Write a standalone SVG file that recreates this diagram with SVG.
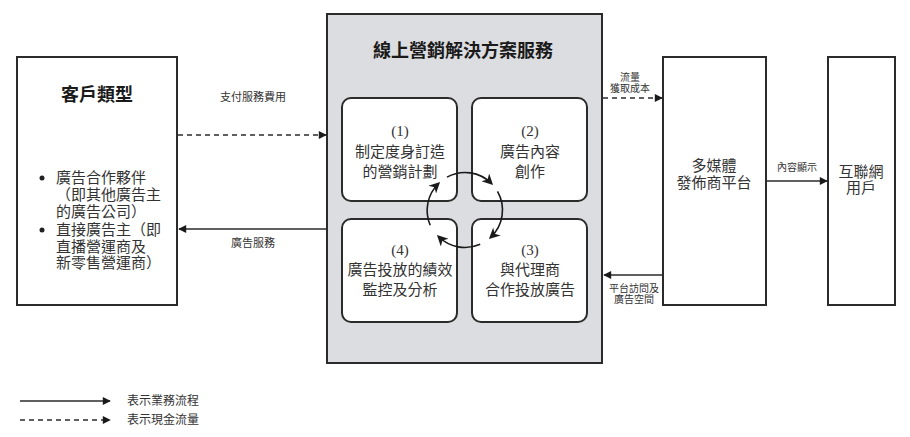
<svg xmlns="http://www.w3.org/2000/svg" width="910" height="437" viewBox="0 0 910 437">
<defs>
<style>
.box{fill:#fff;stroke:#2b2b2b;stroke-width:2}
.mid{fill:#dcdde0;stroke:#2b2b2b;stroke-width:2}
.sub{fill:#fff;stroke:#2b2b2b;stroke-width:2}
.t{font-family:"Liberation Serif","Noto Sans CJK TC",serif;fill:#333;text-anchor:middle}
.title{font-family:"Noto Sans CJK TC","Liberation Sans",sans-serif;font-weight:bold;fill:#1a1a1a;text-anchor:middle}
.b15{font-size:15px}
.lbl{font-size:11px}
.sm{font-size:10px}
.ln{stroke:#2b2b2b;stroke-width:1.3;fill:none}
.dash{stroke-dasharray:5,4}
.cyc{stroke:#1a1a1a;stroke-width:1.6;fill:none}
</style>
<marker id="ah" viewBox="0 0 10 10" refX="9" refY="5" markerWidth="9" markerHeight="8" markerUnits="userSpaceOnUse" orient="auto">
<path d="M0,0 L10,5 L0,10 z" fill="#1a1a1a"/>
</marker>
<marker id="ah2" viewBox="0 0 10 10" refX="8" refY="5" markerWidth="12" markerHeight="11" markerUnits="userSpaceOnUse" orient="auto">
<path d="M0,0 L10,5 L0,10 L3,5 z" fill="#1a1a1a"/>
</marker>
</defs>

<g id="clients">
<rect class="box" x="17" y="57" width="160" height="248"/>
<text class="title" x="97" y="101" font-size="18">客戶類型</text>
<circle cx="42" cy="178" r="2.5" fill="#222"/>
<circle cx="42" cy="230" r="2.5" fill="#222"/>
<g class="t b15" style="text-anchor:start">
<text x="56" y="183">廣告合作夥伴</text>
<text x="56" y="200">（即其他廣告主</text>
<text x="56" y="217">的廣告公司）</text>
<text x="56" y="235">直接廣告主（即</text>
<text x="56" y="252">直播營運商及</text>
<text x="56" y="268">新零售營運商）</text>
</g>
</g>

<g id="solutions">
<rect class="mid" x="327" y="14" width="275" height="349"/>
<text class="title" x="463" y="57" font-size="18">線上營銷解決方案服務</text>
</g>

<g id="step1">
<rect class="sub" x="342" y="98" width="115" height="103" rx="9"/>
<text class="t b15" x="400" y="136">(1)</text>
<text class="t b15" x="400" y="157">制定度身訂造</text>
<text class="t b15" x="400" y="177">的營銷計劃</text>
</g>
<g id="step2">
<rect class="sub" x="472" y="98" width="115" height="103" rx="9"/>
<text class="t b15" x="530" y="136">(2)</text>
<text class="t b15" x="530" y="157">廣告內容</text>
<text class="t b15" x="530" y="177">創作</text>
</g>
<g id="step3">
<rect class="sub" x="472" y="219" width="115" height="103" rx="9"/>
<text class="t b15" x="530" y="255">(3)</text>
<text class="t b15" x="530" y="275">與代理商</text>
<text class="t b15" x="530" y="295">合作投放廣告</text>
</g>
<g id="step4">
<rect class="sub" x="342" y="219" width="115" height="103" rx="9"/>
<text class="t b15" x="400" y="255">(4)</text>
<text class="t b15" x="400" y="275">廣告投放的績效</text>
<text class="t b15" x="400" y="295">監控及分析</text>
</g>

<g id="platform">
<rect class="box" x="663" y="57" width="103" height="248"/>
<text class="t b15" x="714" y="171">多媒體</text>
<text class="t b15" x="714" y="188">發佈商平台</text>
</g>

<g id="users">
<rect class="box" x="828" y="57" width="67" height="248"/>
<text class="t b15" x="861" y="177">互聯網</text>
<text class="t b15" x="861" y="193">用戶</text>
</g>

<g id="connectors">
<line class="ln dash" x1="178" y1="135" x2="326" y2="135" marker-end="url(#ah)"/>
<text class="t lbl" x="253" y="101">支付服務費用</text>
<line class="ln" x1="327" y1="229" x2="179" y2="229" marker-end="url(#ah)"/>
<text class="t lbl" x="253" y="247">廣告服務</text>

<line class="ln dash" x1="603" y1="98" x2="662" y2="98" marker-end="url(#ah)"/>
<text class="t sm" x="630" y="81">流量</text>
<text class="t sm" x="630" y="92">獲取成本</text>
<line class="ln" x1="663" y1="275" x2="604" y2="275" marker-end="url(#ah)"/>
<text class="t sm" x="634" y="292">平台訪問及</text>
<text class="t sm" x="634" y="303">廣告空間</text>

<line class="ln" x1="767" y1="181" x2="827" y2="181" marker-end="url(#ah)"/>
<text class="t sm" x="797" y="171">內容顯示</text>

<path class="cyc" d="M447.0,177.1 A37.5,37.5 0 0 1 491.5,183.5" marker-end="url(#ah2)"/>
<path class="cyc" d="M497.5,191.3 A37.5,37.5 0 0 1 490.5,237.5" marker-end="url(#ah2)"/>
<path class="cyc" d="M480.2,244.3 A37.5,37.5 0 0 1 438.5,236.5" marker-end="url(#ah2)"/>
<path class="cyc" d="M430.2,225.2 A37.5,37.5 0 0 1 438.5,183.5" marker-end="url(#ah2)"/>
</g>

<g id="legend">
<line class="ln" x1="20" y1="401" x2="110" y2="401" marker-end="url(#ah)"/>
<text class="t" x="127" y="405" font-size="12" style="text-anchor:start">表示業務流程</text>
<line class="ln dash" x1="20" y1="420" x2="110" y2="420" marker-end="url(#ah)"/>
<text class="t" x="127" y="424" font-size="12" style="text-anchor:start">表示現金流量</text>
</g>
</svg>
